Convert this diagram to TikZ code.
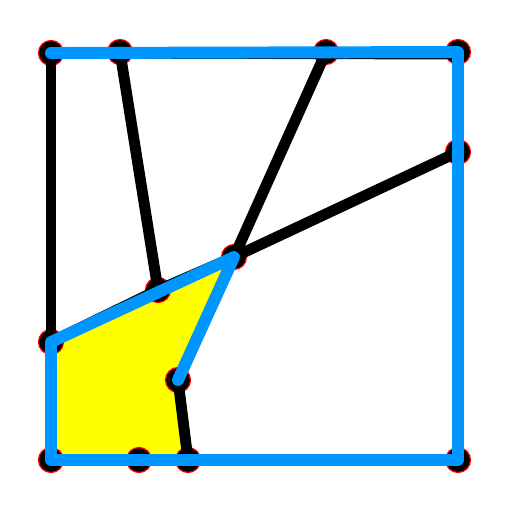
\documentclass[tikz,border=0pt]{standalone}
\definecolor{skyblue}{RGB}{0,150,255}
\definecolor{brightyellow}{RGB}{255,255,0}
\begin{document}
\begin{tikzpicture}[x=0.02cm,y=-0.02cm,
  vertex/.style={circle,fill=black,draw=red,line width=0.7pt,minimum size=0.5cm,inner sep=0pt},
  edge/.style={line width=6.2pt,black},
  border/.style={line width=6.8pt,skyblue,line cap=round,line join=round}]

\useasboundingbox (0,0) rectangle (512,512);

% region
\fill[brightyellow] (51,342)--(234,257)--(178,380)--(188,456)--(51,456)--cycle;

% vertices
\node[vertex] (TL) at (51,53) {};
\node[vertex] (T1) at (120,52) {};
\node[vertex] (T2) at (326,52) {};
\node[vertex] (TR) at (458,52) {};
\node[vertex] (R1) at (458,152) {};
\node[vertex] (BR) at (458,460) {};
\node[vertex] (L1) at (51,342) {};
\node[vertex] (BL) at (51,460) {};
\node[vertex] (B1) at (139,460) {};
\node[vertex] (B2) at (188,460) {};
\node[vertex] (M) at (158,290) {};
\node[vertex] (C) at (234,257) {};
\node[vertex] (K) at (178,380) {};

% edges
\draw[edge] (TL.center)--(BL.center);
\draw[edge] (TL.center)--([yshift=-0.04cm]TR.center);
\draw[edge] (TR.center)--(BR.center);
\draw[edge] (BL.center)--(BR.center);
\draw[edge] (T1.center)--(M.center);
\draw[edge] (T2.center)--(C.center);
\draw[edge] (R1.center)--(C.center);
\draw[edge] (C.center)--(M.center);
\draw[edge] (M.center)--(L1.center);
\draw[edge] (C.center)--(K.center);
\draw[edge] (K.center)--(B2.center);

% boundary
\draw[border] (K.center)--(C.center)--(L1.center)--(BL.center)
  --(BR.center)--(TR.center)--(TL.center);

\end{tikzpicture}
\end{document}
